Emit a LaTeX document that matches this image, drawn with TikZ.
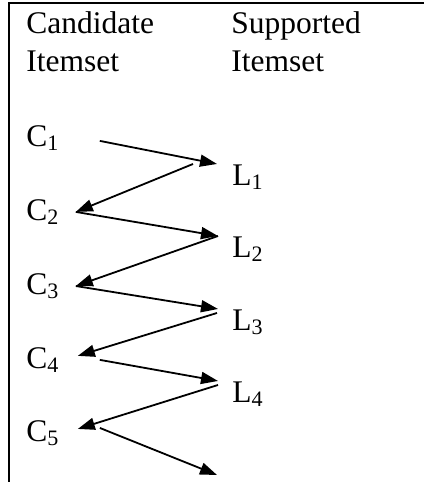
\documentclass[tikz,border=0pt]{standalone}
\usepackage{fontspec}
\setmainfont{Liberation Serif}
\usetikzlibrary{arrows.meta}

\begin{document}
\begin{tikzpicture}[x=0.5pt,y=-0.5pt,
  lbl/.style={inner sep=0pt, anchor=base west, font=\fontsize{15.75pt}{19pt}\selectfont},
  flow/.style={-{Triangle[length=8.5pt,width=6pt]}, line width=0.9pt}]

\useasboundingbox (0,0) rectangle (424,482);

% Cornice
\draw[line width=1.3pt] (9,482) -- (9,3) -- (424,3);

% Intestazioni
\node[lbl, anchor=north west, align=left] (cand) at (26,11.5) {Candidate\\Itemset};
\node[lbl, anchor=north west, align=left] (supp) at (231,11.5) {Supported\\Itemset};

% Itemset candidati
\node[lbl] (c1) at (26,146) {C\textsubscript{1}};
\node[lbl] (c2) at (26,220) {C\textsubscript{2}};
\node[lbl] (c3) at (26,294) {C\textsubscript{3}};
\node[lbl] (c4) at (26,368) {C\textsubscript{4}};
\node[lbl] (c5) at (26,441) {C\textsubscript{5}};

% Itemset supportati
\node[lbl] (l1) at (232,185) {L\textsubscript{1}};
\node[lbl] (l2) at (232,257) {L\textsubscript{2}};
\node[lbl] (l3) at (232,330) {L\textsubscript{3}};
\node[lbl] (l4) at (232,402) {L\textsubscript{4}};
\coordinate (fine) at (217,475);

% Frecce
\draw[flow] ([shift={(20pt,-1.5pt)}]c1.east) -- ([xshift=-7.5pt]l1.north west);
\draw[flow] ([xshift=-19.5pt]l1.north west) -- ([xshift=8pt]c2.east);
\draw[flow] ([xshift=8pt]c2.east) -- ([xshift=-7pt]l2.north west);
\draw[flow] ([xshift=-7pt]l2.north west) -- ([xshift=8pt]c3.east);
\draw[flow] ([xshift=8pt]c3.east) -- ([xshift=-7pt]l3.north west);
\draw[flow] ([shift={(-7.5pt,-2pt)}]l3.north west) -- ([shift={(9pt,2pt)}]c4.east);
\draw[flow] ([xshift=20pt]c4.east) -- ([xshift=-7pt]l4.north west);
\draw[flow] ([shift={(-7pt,-2pt)}]l4.north west) -- ([shift={(9pt,2pt)}]c5.east);
\draw[flow] ([shift={(20pt,2.5pt)}]c5.east) -- (fine);
\end{tikzpicture}
\end{document}
